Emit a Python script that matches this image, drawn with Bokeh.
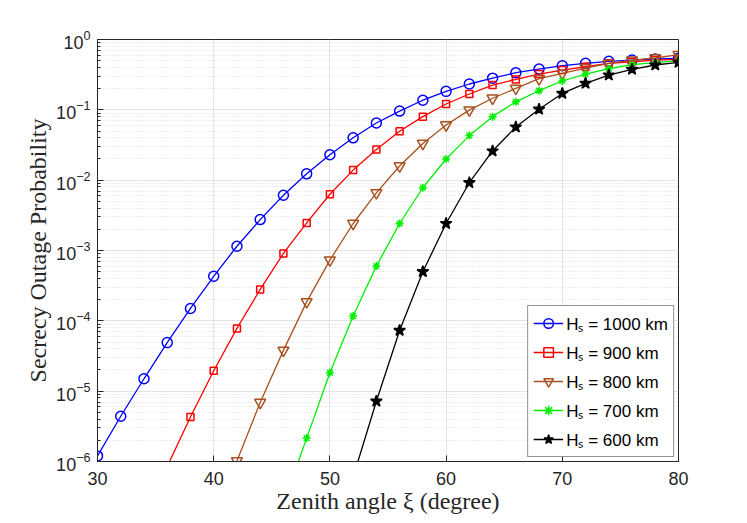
from bokeh.plotting import figure
from bokeh.models import Legend, LegendItem, Range1d, BasicTicker
from bokeh.embed import file_html
from bokeh.resources import INLINE

zenith = [30, 32, 34, 36, 38, 40, 42, 44, 46, 48, 50, 52, 54, 56, 58, 60,
          62, 64, 66, 68, 70, 72, 74, 76, 78, 80]

sop_1000 = [1.2e-6, 4.4e-6, 1.5e-5, 4.9e-5, 1.5e-4, 4.3e-4, 1.15e-3, 2.75e-3,
            6.1e-3, 1.23e-2, 2.3e-2, 4.0e-2, 6.5e-2, 9.6e-2, 0.137, 0.183,
            0.233, 0.282, 0.337, 0.38, 0.424, 0.458, 0.49, 0.51, 0.53, 0.54]
sop_900 = [None, None, None, 8.5e-7, 4.3e-6, 1.95e-5, 7.8e-5, 2.8e-4,
           9.1e-4, 2.47e-3, 6.3e-3, 1.39e-2, 2.73e-2, 4.95e-2, 8.0e-2, 0.121,
           0.168, 0.225, 0.271, 0.323, 0.368, 0.41, 0.458, 0.483, 0.51, 0.52]
sop_800 = [None, None, None, None, None, None, 1.02e-6, 6.9e-6,
           3.8e-5, 1.86e-4, 7.3e-4, 2.42e-3, 6.6e-3, 1.59e-2, 3.33e-2, 6.1e-2,
           9.9e-2, 0.146, 0.202, 0.277, 0.33, 0.393, 0.458, 0.51, 0.546, 0.61]
sop_700 = [None, None, None, None, None, None, None, None,
           2.5e-7, 2.15e-6, 1.83e-5, 1.17e-4, 6.0e-4, 2.42e-3, 7.8e-3, 2.0e-2,
           4.3e-2, 8.0e-2, 0.13, 0.187, 0.257, 0.323, 0.384, 0.438, 0.468, 0.5]
sop_600 = [None, None, None, None, None, None, None, None,
           None, None, None, 6.0e-7, 7.2e-6, 7.3e-5, 5.0e-4, 2.42e-3,
           9.2e-3, 2.6e-2, 5.7e-2, 0.102, 0.171, 0.238, 0.312, 0.376, 0.434, 0.473]

labels = ["H\u209b = 1000 km", "H\u209b = 900 km", "H\u209b = 800 km",
          "H\u209b = 700 km", "H\u209b = 600 km"]

series = [sop_1000, sop_900, sop_800, sop_700, sop_600]
colors = ["#0000ff", "#ff0000", "#a8501e", "#00ee00", "#000000"]
markers = ["circle", "square", "inverted_triangle", "asterisk", "star"]
msizes = [10, 7, 11, 8, 12]
fills = [None, None, None, None, "#000000"]

p = figure(width=739, height=521, y_axis_type="log",
           x_range=Range1d(30, 80), y_range=Range1d(1e-6, 1),
           output_backend="svg", toolbar_location=None,
           min_border_left=97, min_border_right=61,
           min_border_top=39, min_border_bottom=60)
p.background_fill_color = "white"
p.border_fill_color = "white"
p.outline_line_color = "#262626"
p.outline_line_width = 1

# grids
p.xgrid.grid_line_color = "#e3e3e3"
p.ygrid.grid_line_color = "#e3e3e3"
p.ygrid.minor_grid_line_color = "#dcdcdc"
p.ygrid.minor_grid_line_dash = "1 2"
p.xaxis.ticker = BasicTicker(desired_num_ticks=6, num_minor_ticks=0)
p.xgrid.ticker = p.xaxis.ticker

tick_font = "Liberation Sans"
for ax in [p.xaxis[0], p.yaxis[0]]:
    ax.major_label_text_font = tick_font
    ax.major_label_text_font_size = "18px"
    ax.major_label_text_color = "#262626"
    ax.axis_line_color = "#262626"
    ax.major_tick_line_color = "#262626"
    ax.minor_tick_line_color = "#262626"
    ax.major_tick_in = 6
    ax.major_tick_out = 0
    ax.minor_tick_in = 3
    ax.minor_tick_out = 0
    ax.axis_label_text_font = "Liberation Serif"
    ax.axis_label_text_font_size = "24px"
    ax.axis_label_text_font_style = "normal"
    ax.axis_label_text_color = "#262626"

p.xaxis.axis_label = "Zenith angle \u03be (degree)"
p.yaxis.axis_label = "Secrecy Outage Probability"
p.xaxis.major_label_standoff = 10
p.xaxis.axis_label_standoff = 0
p.yaxis.major_label_standoff = 7
p.yaxis.axis_label_standoff = 2

items = []
for ys, col, mk, ms, fc, lab in zip(series, colors, markers, msizes, fills, labels):
    xs = [x for x, y in zip(zenith, ys) if y is not None]
    yv = [y for y in ys if y is not None]
    r1 = p.line(xs, yv, line_color=col, line_width=1.3)
    r2 = p.scatter(xs, yv, marker=mk, size=ms, line_color=col,
                   fill_color=fc, line_width=1.5)
    items.append(LegendItem(label=lab, renderers=[r1, r2]))

legend = Legend(items=items, location="bottom_right")
legend.label_text_font = tick_font
legend.label_text_font_size = "17px"
legend.label_text_color = "#000000"
legend.glyph_width = 30
legend.glyph_height = 24
legend.label_height = 24
legend.spacing = 5
legend.padding = 5
legend.margin = 4
legend.label_standoff = 3
legend.border_line_color = "#262626"
legend.border_line_width = 1
legend.background_fill_alpha = 1
p.add_layout(legend, "center")

open("out.html", "w").write(file_html(p, INLINE))
